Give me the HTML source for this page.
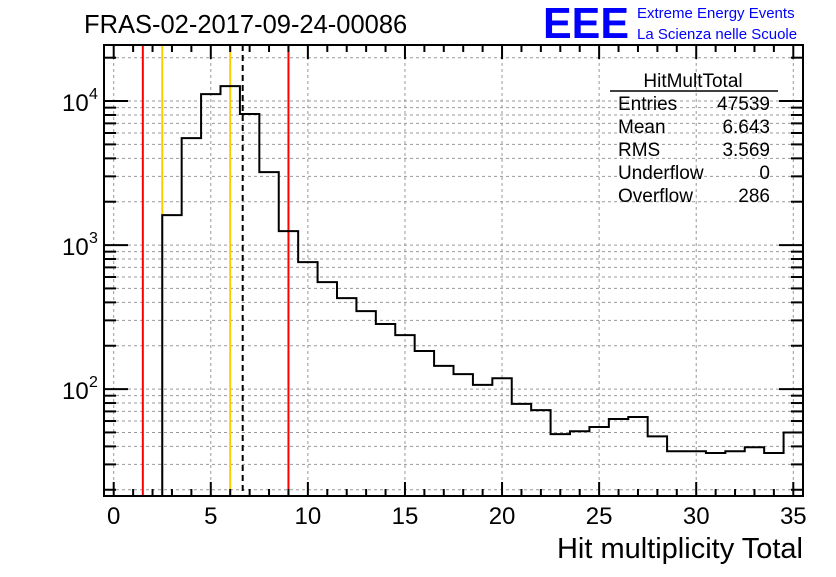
<!DOCTYPE html>
<html><head><meta charset="utf-8"><style>
body{margin:0;background:#fff;width:836px;height:572px;overflow:hidden;font-family:"Liberation Sans",sans-serif}
</style></head><body>
<svg id="c" width="836" height="572" xmlns="http://www.w3.org/2000/svg">
<text x="84" y="33" font-size="25.5">FRAS-02-2017-09-24-00086</text>
<text x="543" y="38" font-size="44" fill="#0000ff" font-weight="bold" textLength="86" lengthAdjust="spacingAndGlyphs">EEE</text>
<text x="637" y="18" font-size="15" fill="#0000ff">Extreme Energy Events</text>
<text x="637" y="39" font-size="15" fill="#0000ff">La Scienza nelle Scuole</text>
<g id="grid"></g><g id="lines"></g><g id="hist"></g><g id="axes"></g>
<g font-size="19">
<text x="693" y="87" text-anchor="middle">HitMultTotal</text>
<line x1="610" y1="91" x2="778" y2="91" stroke="#000" stroke-width="1.5"/>
<text x="618" y="110">Entries</text><text x="770" y="110" text-anchor="end">47539</text>
<text x="618" y="133">Mean</text><text x="770" y="133" text-anchor="end">6.643</text>
<text x="618" y="156">RMS</text><text x="770" y="156" text-anchor="end">3.569</text>
<text x="618" y="179">Underflow</text><text x="770" y="179" text-anchor="end">0</text>
<text x="618" y="202">Overflow</text><text x="770" y="202" text-anchor="end">286</text>
</g>
<text x="803" y="558" font-size="29" text-anchor="end">Hit multiplicity Total</text>
</svg>
<script>
const binCenters=[3,4,5,6,7,8,9,10,11,12,13,14,15,16,17,18,19,20,21,22,23,24,25,26,27,28,29,30,31,32,33,34,35];
const counts=[1615,5530,11180,12700,8130,3210,1250,762,553,428,348,283,237,184,145,127,107,119,79,71.5,48.7,51,54.5,62,64,47,37,37,36,37,39.5,36,50];
const xTicks=[0,5,10,15,20,25,30,35];
const yDecades=[2,3,4];
const markerLines=[{x:1.5,c:"#ff0000"},{x:2.5,c:"#ffcc00"},{x:6.0,c:"#ffcc00"},{x:9.0,c:"#ff0000"}];
const meanValue=6.643;
const L=104,R=803,T=45,B=496,xmin=-0.5,xmax=35.5,ymin=Math.log10(18.1),ymax=Math.log10(24500);
const X=v=>L+(v-xmin)/(xmax-xmin)*(R-L);
const Y=v=>B-(Math.log10(v)-ymin)/(ymax-ymin)*(B-T);
const NS="http://www.w3.org/2000/svg";
function mk(p,t,a){const e=document.createElementNS(NS,t);for(const k in a)e.setAttribute(k,a[k]);document.getElementById(p).appendChild(e);return e;}
for(const t of xTicks){const e=mk("grid","line",{x1:X(t),x2:X(t),y1:T,y2:B,stroke:"#999","stroke-dasharray":"3,3"});

}
for(let d=1;d<=4;d++)for(let m=1;m<=9;m++){const v=m*Math.pow(10,d);const y=Y(v);if(y<T||y>B)continue;
const e=mk("grid","line",{x1:L,x2:R,y1:y,y2:y,stroke:"#999","stroke-dasharray":"3,3"});

}
for(const m of markerLines){const e=mk("lines","line",{x1:X(m.x),x2:X(m.x),y1:T,y2:B,stroke:m.c,"stroke-width":2});

}
const ml=mk("lines","line",{x1:X(meanValue),x2:X(meanValue),y1:T,y2:B,stroke:"#000","stroke-width":2,"stroke-dasharray":"6,4"});


let d="M"+X(binCenters[0]-0.5)+","+B;
binCenters.forEach((c,i)=>{const y=Y(counts[i]);d+=" L"+X(c-0.5)+","+y+" L"+X(c+0.5)+","+y;});
const h=mk("hist","path",{d:d,fill:"none",stroke:"#000","stroke-width":2});


const fr=mk("axes","rect",{x:L,y:T,width:R-L,height:B-T,fill:"none",stroke:"#000","stroke-width":2});


for(let v=0;v<=35;v++){const maj=v%5==0,len=maj?14:7;
mk("axes","line",{x1:X(v),x2:X(v),y1:B,y2:B-len,stroke:"#000","stroke-width":2});
mk("axes","line",{x1:X(v),x2:X(v),y1:T,y2:T+len,stroke:"#000","stroke-width":2});}
for(const t of xTicks){const e=mk("axes","text",{x:X(t),y:B+28,"font-size":24,"text-anchor":"middle"});e.textContent=t;

}
for(let dd=1;dd<=4;dd++)for(let m=1;m<=9;m++){const v=m*Math.pow(10,dd);const y=Y(v);if(y<T||y>B)continue;const len=m==1?24:12;
mk("axes","line",{x1:L,x2:L+len,y1:y,y2:y,stroke:"#000","stroke-width":2});
mk("axes","line",{x1:R,x2:R-len,y1:y,y2:y,stroke:"#000","stroke-width":2});}
for(const dd of yDecades){const y=Y(Math.pow(10,dd));
const e=mk("axes","text",{x:62,y:y+10,"font-size":24});e.textContent="10";


const s=mk("axes","text",{x:89,y:y-2,"font-size":16});s.textContent=dd;}
</script>
</body></html>
